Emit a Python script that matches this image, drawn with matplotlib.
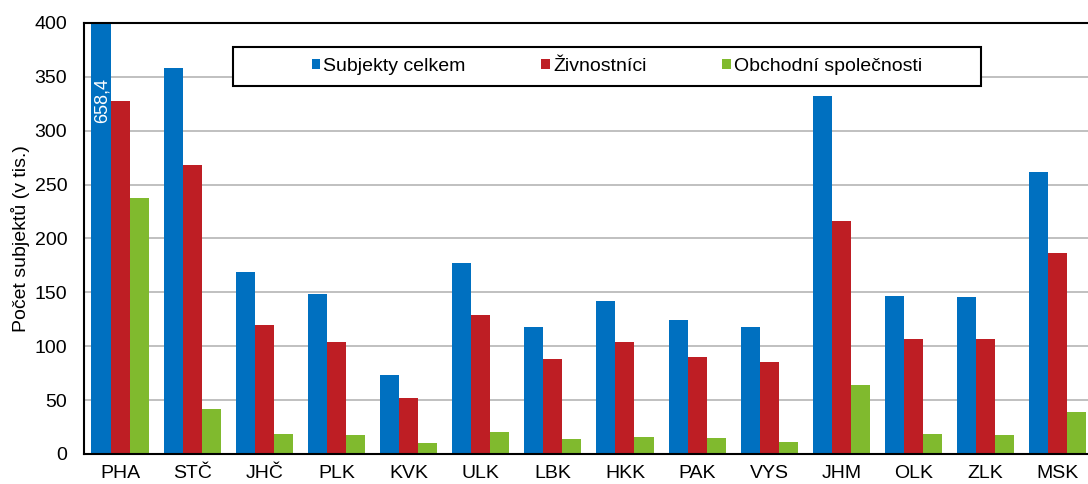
import matplotlib.pyplot as plt
import numpy as np
from matplotlib.patches import Rectangle

plt.rcParams['font.family'] = ['Liberation Sans', 'DejaVu Sans']

kraje = ['PHA', 'STČ', 'JHČ', 'PLK', 'KVK', 'ULK', 'LBK', 'HKK', 'PAK', 'VYS', 'JHM', 'OLK', 'ZLK', 'MSK']
subjekty = [658.4, 358.2, 168.9, 148.5, 73.3, 177.3, 117.9, 142.0, 124.4, 117.9, 332.3, 146.6, 145.7, 261.7]
zivnostnici = [327.6, 268.2, 119.7, 104.0, 52.0, 129.0, 88.2, 104.0, 90.0, 85.4, 216.2, 106.7, 106.7, 186.5]
spolecnosti = [237.6, 41.8, 18.6, 17.6, 10.2, 20.4, 13.9, 15.8, 14.8, 11.1, 64.0, 18.6, 17.6, 39.0]

serie = ['Subjekty celkem', 'Živnostníci', 'Obchodní společnosti']
barvy = ['#0070c0', '#be1e24', '#80ba2e']

fig = plt.figure(figsize=(10.88, 4.84), dpi=100)
ax = fig.add_axes([0.0772, 0.062, 0.9228, 0.8905])

x = np.arange(len(kraje))
w = 0.264
for i, (vals, lab, c) in enumerate(zip([subjekty, zivnostnici, spolecnosti], serie, barvy)):
    ax.bar(x + (i - 1) * w, vals, w, color=c, label=lab, zorder=2)

# popisek u oříznutého sloupce PHA
ax.text(x[0] - w + 0.02, 349, f'{subjekty[0]:.1f}'.replace('.', ','), rotation=90, color='white',
        ha='center', va='top', fontsize=13, zorder=3)

ax.set_ylim(0, 400)
ax.set_xlim(-0.5, 13.42)
ax.set_yticks(range(0, 401, 50))
ax.set_xticks(x)
ax.set_xticklabels(kraje)
ax.tick_params(axis='both', length=0, labelsize=14)
ax.tick_params(axis='x', pad=8)
ax.tick_params(axis='y', pad=12)
ax.yaxis.grid(True, color='#c0c0c0', linewidth=1.4, zorder=0)
ax.set_axisbelow(True)
for s in ['left', 'bottom', 'top']:
    ax.spines[s].set_linewidth(1.5)
    ax.spines[s].set_color('black')
ax.spines['right'].set_visible(False)
ax.set_ylabel('Počet subjektů (v tis.)', fontsize=14, labelpad=3)

# rámeček legendy
fig.patches.append(Rectangle((0.214, 0.822), 0.688, 0.081, transform=fig.transFigure,
                             facecolor='white', edgecolor='black', linewidth=1.5, zorder=5))
leg = fig.legend(loc='center', bbox_to_anchor=(0.567, 0.8625), ncol=3, frameon=False,
                 fontsize=14, handlelength=0.45, handleheight=0.45, handletextpad=0.15,
                 columnspacing=3.9)
leg.set_zorder(6)

fig.savefig('out.png', dpi=100)
